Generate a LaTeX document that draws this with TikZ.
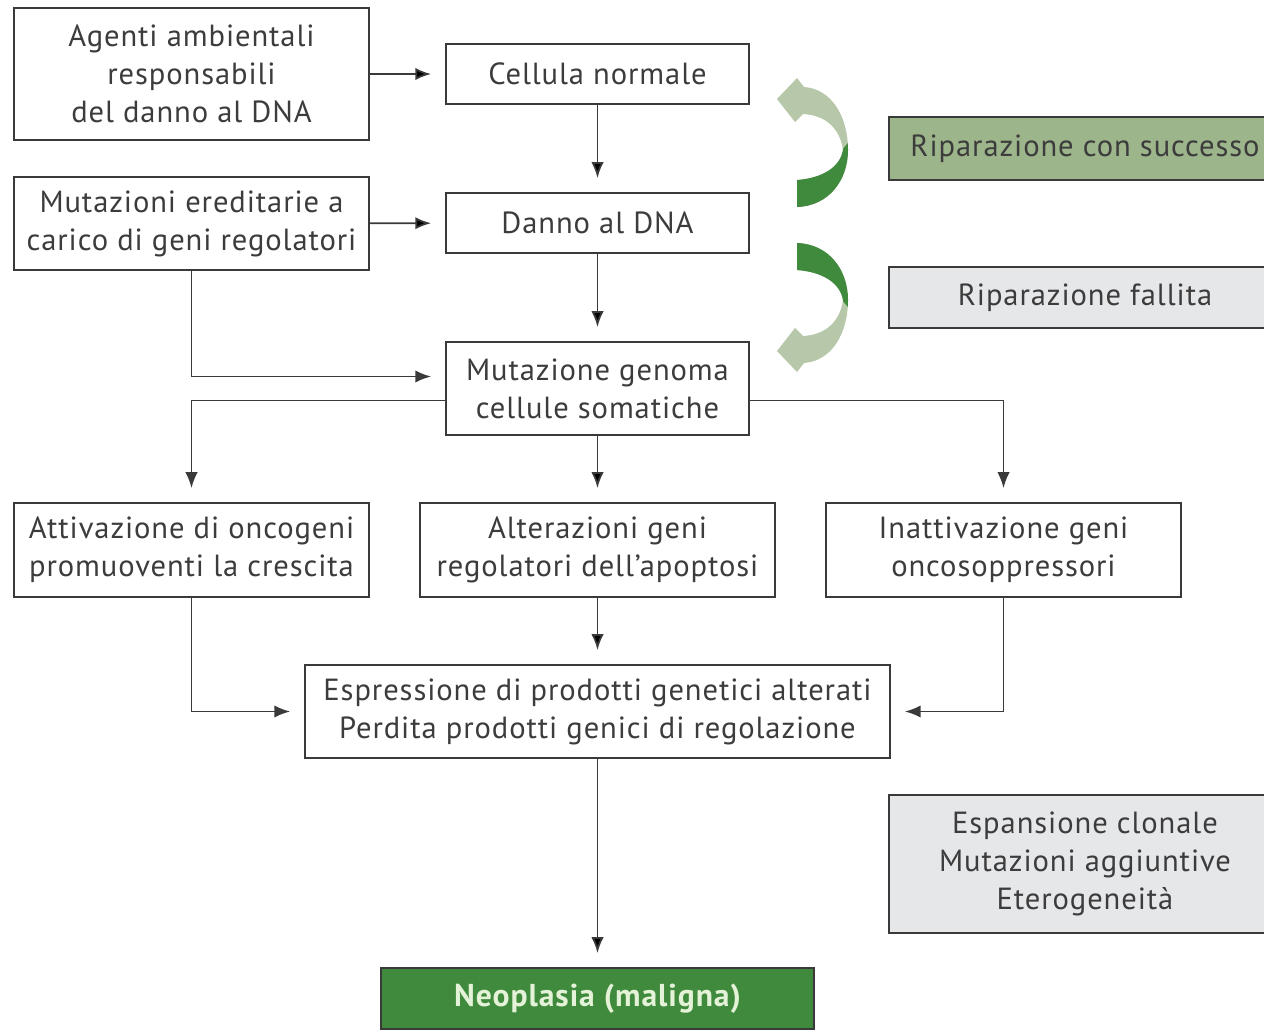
\documentclass[tikz,border=0pt]{standalone}
\usepackage{fontspec}
\setmainfont[LetterSpace=3]{PT Sans}
\usetikzlibrary{arrows.meta,positioning}
\definecolor{boxline}{HTML}{3A3A3A}
\definecolor{txt}{HTML}{3C3C3C}
\definecolor{okgreen}{HTML}{9DB58A}
\definecolor{lightgray}{HTML}{E6E7E9}
\definecolor{darkgreen}{HTML}{3F8A3C}
\definecolor{palegreen}{HTML}{B7C7A9}
\definecolor{neotext}{HTML}{E4F2D8}

\tikzset{every node/.style={font=\fontsize{17.4}{21.6}\selectfont, text=txt}}
\tikzset{box/.style={
    draw=boxline,
    line width=1.1pt,
    align=center,
    inner sep=2pt
}}
\tikzset{>={Latex[length=9pt,width=7pt]}}
\tikzset{conn/.style={->, draw=boxline, line width=1pt, shorten >=0.28cm}}

% crescent arrow between the repair boxes
\newcommand{\repairpath}{(0,-45) .. controls (26,-47) and (43,-58) .. (46,-75)
    .. controls (43,-97) and (28,-110) .. (6,-111) -- (-2,-103) -- (-20,-126)
    -- (0,-147) -- (7,-138) .. controls (35,-136) and (51,-108) .. (51,-75)
    .. controls (51,-45) and (32,-19) .. (0,-18) -- cycle}
\tikzset{repairarrow/.pic={
    \fill[palegreen] \repairpath;
    \begin{scope}
        \clip \repairpath;
        \fill[darkgreen] (-5,-10) -- (-5,-55) -- (28,-55) -- (62,-95) -- (62,-10) -- cycle;
    \end{scope}
}}

\begin{document}
\begin{tikzpicture}[x=0.02cm,y=-0.02cm]
    \useasboundingbox (0,0) rectangle (1264,1031);
    \clip (0,0) rectangle (1264,1031);

    % left column
    \node[box, minimum width=7.1cm, minimum height=2.64cm] (agenti) at (191.5,74)
        {Agenti ambientali\\responsabili\\del danno al DNA};
    \node[box, minimum width=7.1cm, minimum height=1.86cm] (ered) at (191.5,223.5)
        {Mutazioni ereditarie a\\carico di geni regolatori};

    % middle column
    \node[box, minimum width=6.06cm, minimum height=1.2cm] (cell) at (597.5,74) {Cellula normale};
    \node[box, minimum width=6.06cm, minimum height=1.2cm] (danno) at (597.5,223) {Danno al DNA};
    \node[box, minimum width=6.06cm, minimum height=1.86cm] (genoma) at (597.5,388.5)
        {Mutazione genoma\\cellule somatiche};

    % three effects
    \node[box, minimum width=7.1cm, minimum height=1.88cm] (onco) at (191.5,550)
        {Attivazione di oncogeni\\promuoventi la crescita};
    \node[box, minimum width=7.1cm, minimum height=1.88cm] (apopt) at (597.5,550)
        {Alterazioni geni\\regolatori dell'apoptosi};
    \node[box, minimum width=7.1cm, minimum height=1.88cm] (soppr) at (1003.5,550)
        {Inattivazione geni\\oncosoppressori};

    \node[box, minimum width=11.7cm, minimum height=1.86cm] (espr) at (597.5,711.5)
        {Espressione di prodotti genetici alterati\\Perdita prodotti genici di regolazione};
    \node[box, fill=darkgreen, minimum width=8.66cm, minimum height=1.22cm,
        text=neotext, font=\fontsize{18}{21.6}\selectfont\bfseries] (neo) at (597.5,998.5)
        {Neoplasia (maligna)};

    % right column
    \node[box, fill=okgreen, minimum width=7.84cm, minimum height=1.26cm] (succ) at (1085,148.5)
        {Riparazione con successo};
    \node[box, fill=lightgray, minimum width=7.84cm, minimum height=1.22cm] (fall) at (1085,297.5)
        {Riparazione fallita};
    \node[box, fill=lightgray, minimum width=7.84cm, minimum height=2.76cm] (clon) at (1085,864)
        {Espansione clonale\\Mutazioni aggiuntive\\Eterogeneità};

    \pic at (797,225) {repairarrow};
    \pic[yscale=-1] at (797,225) {repairarrow};

    \path[conn]
        (agenti) edge (cell)
        (ered) edge (danno)
        (cell) edge (danno)
        (danno) edge (genoma)
        (genoma) edge (apopt)
        (apopt) edge (espr)
        (espr) edge (neo);
    \draw[conn] (ered.south) |- ([yshift=0.24cm]genoma.west);
    \draw[conn] ([yshift=-0.24cm]genoma.west) -| (onco.north);
    \draw[conn] ([yshift=-0.24cm]genoma.east) -| (soppr.north);
    \draw[conn] (onco.south) |- (espr.west);
    \draw[conn] (soppr.south) |- (espr.east);
\end{tikzpicture}
\end{document}
